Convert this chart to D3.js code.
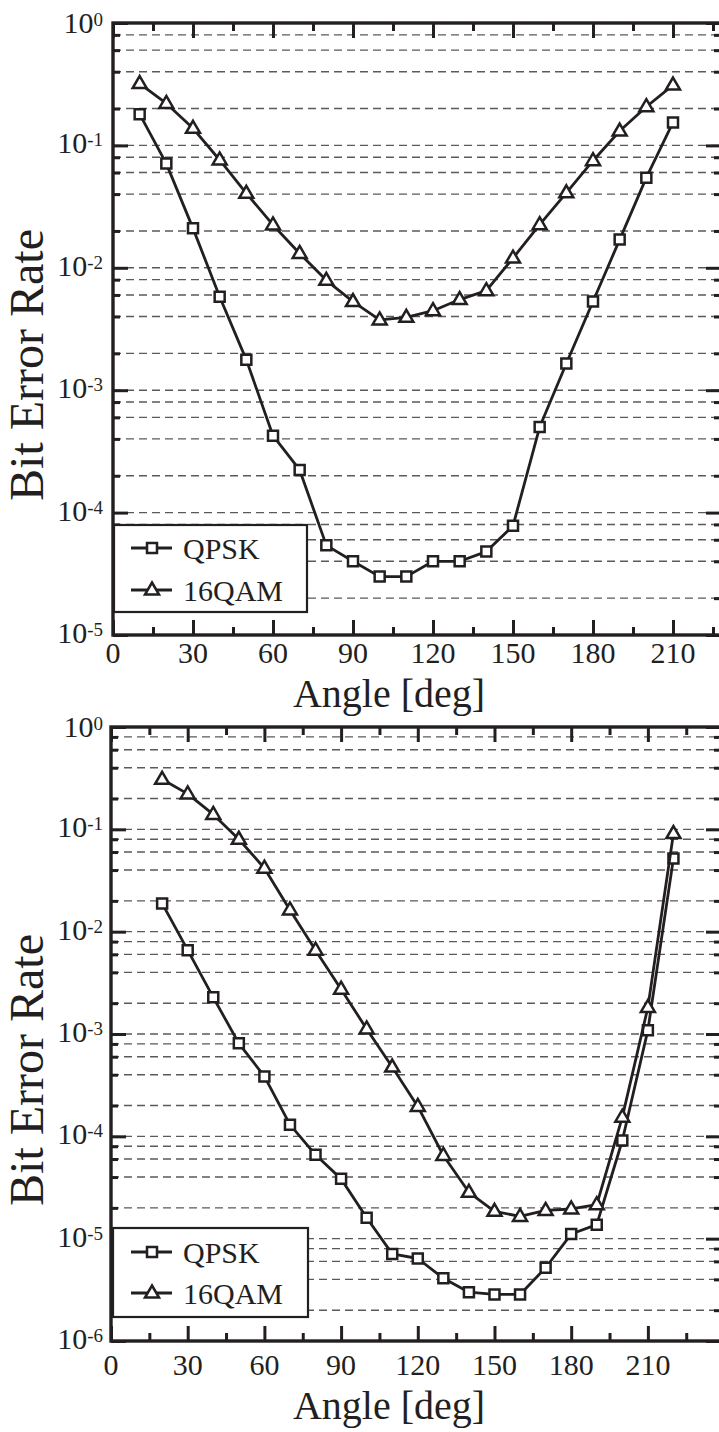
<!DOCTYPE html>
<html>
<head>
<meta charset="utf-8">
<script src="https://cdn.jsdelivr.net/npm/d3@7"></script>
<style>
  body { margin: 0; background: #fff; }
</style>
</head>
<body>
<div id="chart"></div>
<script>
// data
var anglesTop = [10, 20, 30, 40, 50, 60, 70, 80, 90, 100, 110, 120, 130, 140, 150, 160, 170, 180, 190, 200, 210];
var qpskTop = [0.18, 0.071, 0.021, 0.0058, 0.00177, 4.25e-4, 2.23e-4, 5.4e-5, 4.0e-5, 3.0e-5, 3.0e-5, 4.0e-5, 4.0e-5, 4.8e-5, 7.8e-5, 5.0e-4, 1.65e-3, 5.3e-3, 1.7e-2, 5.45e-2, 0.154];
var qamTop = [0.32, 0.22, 0.138, 0.076, 0.0406, 0.0224, 0.0131, 7.9e-3, 5.3e-3, 3.75e-3, 3.94e-3, 4.46e-3, 5.5e-3, 6.5e-3, 1.2e-2, 2.25e-2, 4.1e-2, 7.5e-2, 0.131, 0.207, 0.311];

var anglesBottom = [20, 30, 40, 50, 60, 70, 80, 90, 100, 110, 120, 130, 140, 150, 160, 170, 180, 190, 200, 210, 220];
var qpskBottom = [0.0189, 6.6e-3, 2.28e-3, 8.1e-4, 3.85e-4, 1.3e-4, 6.6e-5, 3.84e-5, 1.6e-5, 7.1e-6, 6.4e-6, 4.1e-6, 3.0e-6, 2.85e-6, 2.85e-6, 5.2e-6, 1.11e-5, 1.37e-5, 9.1e-5, 1.09e-3, 0.052];
var qamBottom = [0.308, 0.222, 0.14, 0.08, 0.0417, 0.0163, 6.6e-3, 2.74e-3, 1.12e-3, 4.75e-4, 1.96e-4, 6.5e-5, 2.84e-5, 1.85e-5, 1.65e-5, 1.89e-5, 1.95e-5, 2.15e-5, 1.54e-4, 1.82e-3, 0.091];

var xMajor = [0, 30, 60, 90, 120, 150, 180, 210];
var xMinor = [15, 45, 75, 105, 135, 165, 195, 225];
var seriesNames = ["QPSK", "16QAM"];

var W = 719, H = 1432;
var ink = "#231f20";
var serif = "'Liberation Serif', 'Times New Roman', Tinos, 'DejaVu Serif', serif";

var svg = d3.select("#chart").append("svg")
  .attr("width", W)
  .attr("height", H)
  .attr("font-family", serif)
  .style("font-family", serif);

function drawPanel(p) {
  var x = d3.scaleLinear().domain([0, p.xmax]).range([p.x0, p.x1]);
  var y = d3.scaleLog().domain([p.ymin, 1]).range([p.yBot, p.yTop]);

  var g = svg.append("g");

  var exps = d3.range(0, Math.round(Math.log10(p.ymin)) - 1, -1);
  var decades = exps.map(function(e) { return Math.pow(10, e); });
  var minors = [];
  exps.slice(1).forEach(function(e) {
    [2, 4, 6, 8].forEach(function(m) { minors.push(m * Math.pow(10, e)); });
  });
  var gridVals = decades.slice(1, -1).concat(minors);

  // dashed horizontal grid
  g.append("g").selectAll("line")
    .data(gridVals)
    .join("line")
      .attr("x1", p.x0).attr("x2", p.x1)
      .attr("y1", function(d) { return y(d); })
      .attr("y2", function(d) { return y(d); })
      .attr("stroke", "#5a5a5a")
      .attr("stroke-width", 1.4)
      .attr("stroke-dasharray", "8,5");

  // ticks, all pointing inward
  function ticks(axis, tx, ty) {
    var a = g.append("g")
      .attr("transform", "translate(" + tx + "," + ty + ")")
      .call(axis.tickFormat(""));
    a.select(".domain").remove();
    a.selectAll("line").attr("stroke", ink).attr("stroke-width", 3);
  }
  ticks(d3.axisLeft(y).tickValues(decades).tickSizeInner(-15).tickSizeOuter(0), p.x0, 0);
  ticks(d3.axisLeft(y).tickValues(minors).tickSizeInner(-7).tickSizeOuter(0), p.x0, 0);
  ticks(d3.axisRight(y).tickValues(decades).tickSizeInner(-15).tickSizeOuter(0), p.x1, 0);
  ticks(d3.axisRight(y).tickValues(minors).tickSizeInner(-7).tickSizeOuter(0), p.x1, 0);
  ticks(d3.axisBottom(x).tickValues(xMajor).tickSizeInner(-15).tickSizeOuter(0), 0, p.yBot);
  ticks(d3.axisBottom(x).tickValues(xMinor).tickSizeInner(-8).tickSizeOuter(0), 0, p.yBot);
  ticks(d3.axisTop(x).tickValues(xMajor).tickSizeInner(-15).tickSizeOuter(0), 0, p.yTop);
  ticks(d3.axisTop(x).tickValues(xMinor).tickSizeInner(-8).tickSizeOuter(0), 0, p.yTop);

  // frame
  g.append("rect")
    .attr("x", p.x0).attr("y", p.yTop)
    .attr("width", p.x1 - p.x0).attr("height", p.yBot - p.yTop)
    .attr("fill", "none")
    .attr("stroke", ink)
    .attr("stroke-width", 3.4);

  // y tick labels 10^n
  var yl = g.append("g").selectAll("text")
    .data(exps)
    .join("text")
      .attr("x", 103)
      .attr("y", function(e) { return y(Math.pow(10, e)) + (e === 0 ? 10 : 8); })
      .attr("text-anchor", "end")
      .attr("font-size", 30)
      .attr("fill", ink);
  yl.append("tspan").text("10");
  yl.append("tspan")
    .attr("font-size", 19)
    .attr("dy", -7)
    .text(function(e) { return e === 0 ? "0" : "-" + (-e); });

  // x tick labels
  g.append("g").selectAll("text")
    .data(xMajor)
    .join("text")
      .attr("x", function(d) { return x(d); })
      .attr("y", p.yBot + p.labelDy)
      .attr("text-anchor", "middle")
      .attr("font-size", 30)
      .attr("fill", ink)
      .text(function(d) { return d; });

  // axis titles
  g.append("text")
    .attr("transform", "translate(43," + p.yTitleY + ") rotate(-90)")
    .attr("text-anchor", "middle")
    .attr("font-size", 48)
    .attr("fill", ink)
    .text("Bit Error Rate");
  g.append("text")
    .attr("x", p.xTitleX)
    .attr("y", p.xTitleY)
    .attr("text-anchor", "middle")
    .attr("font-size", 40)
    .attr("fill", ink)
    .text("Angle [deg]");

  // series
  var line = d3.line()
    .x(function(d) { return x(d[0]); })
    .y(function(d) { return y(d[1]); });

  var sets = [d3.zip(p.angles, p.qpsk), d3.zip(p.angles, p.qam)];
  var shapes = ["M-5,-5H5V5H-5Z", "M0,-7.5L7,4.5H-7Z"];

  sets.forEach(function(pts, i) {
    g.append("path")
      .attr("d", line(pts))
      .attr("fill", "none")
      .attr("stroke", ink)
      .attr("stroke-width", 2.8)
      .attr("stroke-linejoin", "round");
    g.append("g").selectAll("path")
      .data(pts)
      .join("path")
        .attr("transform", function(d) { return "translate(" + x(d[0]) + "," + y(d[1]) + ")"; })
        .attr("d", shapes[i])
        .attr("fill", "#fff")
        .attr("stroke", ink)
        .attr("stroke-width", 2.5);
  });

  // legend
  var lg = g.append("g");
  lg.append("rect")
    .attr("x", p.legend[0]).attr("y", p.legend[1])
    .attr("width", p.legend[2]).attr("height", p.legend[3])
    .attr("fill", "#fff")
    .attr("stroke", ink)
    .attr("stroke-width", 2.2);
  seriesNames.forEach(function(name, i) {
    var ly = p.legendRows[i];
    lg.append("line")
      .attr("x1", 131).attr("x2", 172)
      .attr("y1", ly).attr("y2", ly)
      .attr("stroke", ink).attr("stroke-width", 2.8);
    lg.append("path")
      .attr("transform", "translate(152," + ly + ")")
      .attr("d", shapes[i])
      .attr("fill", "#fff")
      .attr("stroke", ink)
      .attr("stroke-width", 2.5);
    lg.append("text")
      .attr("x", 183)
      .attr("y", ly + 11)
      .attr("font-size", 30)
      .attr("fill", ink)
      .text(name);
  });
}

drawPanel({
  x0: 113, x1: 721, xmax: 228, yTop: 23, yBot: 635, ymin: 1e-5,
  labelDy: 28,
  yTitleY: 365, xTitleX: 389, xTitleY: 707,
  angles: anglesTop, qpsk: qpskTop, qam: qamTop,
  legend: [114, 525, 193, 87], legendRows: [548, 590]
});

drawPanel({
  x0: 111, x1: 721, xmax: 238.6, yTop: 727, yBot: 1341, ymin: 1e-6,
  labelDy: 34,
  yTitleY: 1070, xTitleX: 389, xTitleY: 1419,
  angles: anglesBottom, qpsk: qpskBottom, qam: qamBottom,
  legend: [113, 1228, 195, 89], legendRows: [1252, 1293]
});
</script>
</body>
</html>
